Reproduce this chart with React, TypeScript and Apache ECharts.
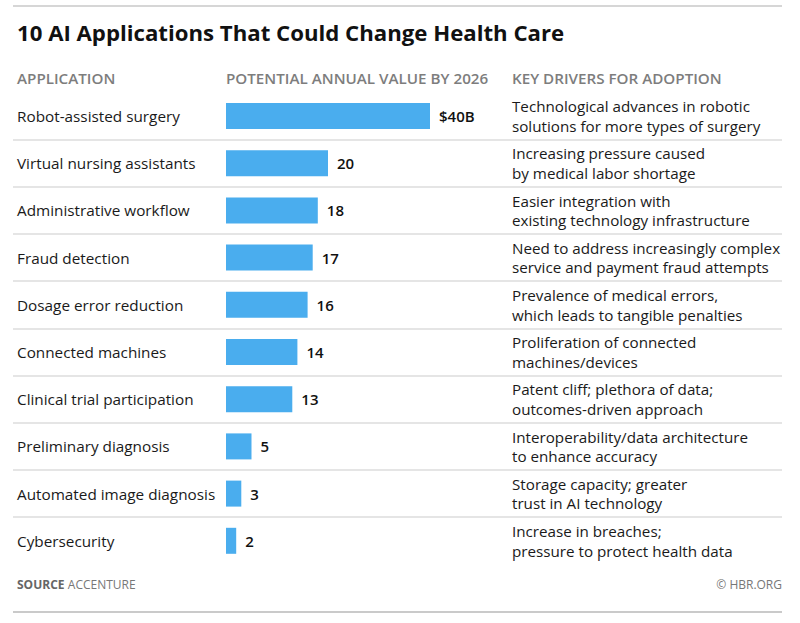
import React, { useEffect, useRef } from "react";
import * as echarts from "echarts";

const applications = [
  "Robot-assisted surgery",
  "Virtual nursing assistants",
  "Administrative workflow",
  "Fraud detection",
  "Dosage error reduction",
  "Connected machines",
  "Clinical trial participation",
  "Preliminary diagnosis",
  "Automated image diagnosis",
  "Cybersecurity",
];
const values = [40, 20, 18, 17, 16, 14, 13, 5, 3, 2];
const drivers = [
  "Technological advances in robotic\nsolutions for more types of surgery",
  "Increasing pressure caused\nby medical labor shortage",
  "Easier integration with\nexisting technology infrastructure",
  "Need to address increasingly complex\nservice and payment fraud attempts",
  "Prevalence of medical errors,\nwhich leads to tangible penalties",
  "Proliferation of connected\nmachines/devices",
  "Patent cliff; plethora of data;\noutcomes-driven approach",
  "Interoperability/data architecture\nto enhance accuracy",
  "Storage capacity; greater\ntrust in AI technology",
  "Increase in breaches;\npressure to protect health data",
];
const headers = ["APPLICATION", "POTENTIAL ANNUAL VALUE BY 2026", "KEY DRIVERS FOR ADOPTION"];
const title = "10 AI Applications That Could Change Health Care";

const FONT = "'Open Sans', Lato, sans-serif";

export default function App() {
  const ref = useRef<HTMLDivElement>(null);
  useEffect(() => {
    if (!ref.current) return;
    const chart = echarts.init(ref.current, null, { renderer: "svg" });
    const gridLeft = 13;
    const gridRight = 782;
    const zeroX = 226;
    const pxPerUnit = 5.1;
    const xMin = -(zeroX - gridLeft) / pxPerUnit;
    const xMax = (gridRight - zeroX) / pxPerUnit;
    chart.setOption({
      animation: false,
      backgroundColor: "#ffffff",
      grid: { left: gridLeft, right: 800 - gridRight, top: 92.4, height: 472, containLabel: false },
      xAxis: {
        type: "value",
        min: xMin,
        max: xMax,
        show: false,
      },
      yAxis: [
        {
          type: "category",
          data: applications,
          inverse: true,
          position: "left",
          axisLine: { show: false },
          axisTick: { show: false },
          axisLabel: {
            align: "left",
            margin: -4,
            color: "#1a1a1a",
            fontSize: 15.3,
            fontFamily: FONT,
          },
          splitLine: {
            show: true,
            showMinLine: false,
            showMaxLine: false,
            lineStyle: { color: "#dcdcdc", width: 1.5 },
          },
        },
        {
          type: "category",
          data: drivers,
          inverse: true,
          position: "left",
          offset: -(512 - gridLeft),
          axisLine: { show: false },
          axisTick: { show: false },
          splitLine: { show: false },
          axisLabel: {
            align: "left",
            margin: 0,
            color: "#1a1a1a",
            fontSize: 15.2,
            lineHeight: 19.5,
            fontFamily: FONT,
          },
        },
      ],
      series: [
        {
          type: "bar",
          data: values,
          yAxisIndex: 0,
          barWidth: 26,
          itemStyle: { color: "#4aadee" },
          label: {
            show: true,
            position: "right",
            distance: 9,
            color: "#111",
            fontSize: 15,
            fontWeight: 600,
            fontFamily: FONT,
            formatter: (p: any) => (p.dataIndex === 0 ? `$${p.value}B` : `${p.value}`),
          },
        },
      ],
      graphic: [
        { type: "line", shape: { x1: 13, y1: 6, x2: 782, y2: 6 }, style: { stroke: "#c8c8c8", lineWidth: 1.5 } },
        { type: "line", shape: { x1: 13, y1: 612, x2: 782, y2: 612 }, style: { stroke: "#b8b8b8", lineWidth: 1.5 } },
        {
          type: "text",
          left: 17,
          top: 21,
          style: { text: title, fontSize: 22.2, fontWeight: "bold", fill: "#111", fontFamily: FONT },
        },
        ...headers.map((h, i) => ({
          type: "text",
          left: [17, 226, 512][i],
          top: 70,
          style: { text: h, fontSize: 15.2, fontWeight: 600, fill: "#7d7d7d", fontFamily: FONT },
        })),
        {
          type: "text",
          left: 17,
          top: 578,
          style: {
            text: "{b|SOURCE} {n|ACCENTURE}",
            rich: {
              b: { fontSize: 12, fontWeight: "bold", fill: "#666", fontFamily: FONT },
              n: { fontSize: 12, fill: "#777", fontFamily: FONT },
            },
          },
        },
        {
          type: "text",
          right: 18,
          top: 578,
          style: { text: "© HBR.ORG", fontSize: 12, fill: "#777", fontFamily: FONT },
        },
      ],
    });
    return () => chart.dispose();
  }, []);
  return <div ref={ref} style={{ width: 800, height: 623, position: "absolute", left: 0, top: 0 }} />;
}
